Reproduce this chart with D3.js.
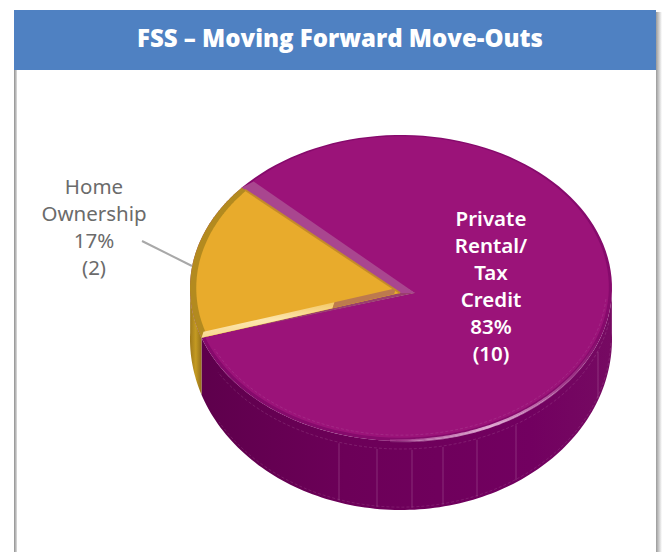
<!DOCTYPE html>
<html><head><meta charset="utf-8">
<script src="https://cdnjs.cloudflare.com/ajax/libs/d3/7.8.5/d3.min.js"></script>
<style>html,body{margin:0;padding:0;background:#fff}svg{display:block}</style>
</head><body><svg id="c" width="670" height="552"></svg>
<script>
const titleText = "FSS – Moving Forward Move-Outs";
const categories = ["Private Rental/Tax Credit", "Home Ownership"];
const values = [10, 2];
const privateLabel = ["Private","Rental/","Tax","Credit","83%","(10)"];
const homeLabel = ["Home","Ownership","17%","(2)"];
const faceColors = ["#9b1379","#e8ab2c"];

const svg = d3.select("#c");
const defs = svg.append("defs");
const cx=401, cy=288, rx=211, ry=153, cyB=339, ryB=171;
const rad=d=>d*Math.PI/180;
const pie = d3.pie().sort(null).value(d=>d).startAngle(rad(311)).endAngle(rad(311+360));
const arcs = pie(values);
const pt=(a,k=1,ox=cx,oy=cy,rrx=rx,rry=ry)=>[ox+rrx*k*Math.sin(a), oy-rry*k*Math.cos(a)];
const sweep=(a0,a1,f)=>d3.range(0,121).map(i=>f(a0+(a1-a0)*i/120));
const line=d3.line();
const lerp=(p,q,t)=>[p[0]+(q[0]-p[0])*t,p[1]+(q[1]-p[1])*t];
const gradient=(id,stops,attrs={})=>{
  const g=defs.append("linearGradient").attr("id",id);
  Object.entries(attrs).forEach(([k,v])=>g.attr(k,v));
  stops.forEach(s=>g.append("stop").attr("offset",s[0]).attr("stop-color",s[1]).attr("stop-opacity",s[2]===undefined?1:s[2]));
};

// card
gradient("sh",[[0,"#9a9a9a"],[1,"#ffffff"]]);
gradient("shL",[[0,"#8f8f8f"],[1,"#dddddd"]]);
svg.append("rect").attr("x",14).attr("y",70).attr("width",3).attr("height",482).attr("fill","url(#shL)");
svg.append("rect").attr("x",656).attr("y",12).attr("width",6).attr("height",540).attr("fill","url(#sh)");
svg.append("rect").attr("x",14).attr("y",10).attr("width",642).attr("height",60).attr("fill","#4f81c2");
svg.append("text").attr("x",340).attr("y",47).attr("text-anchor","middle").attr("fill","#fff")
 .attr("font-family","'Open Sans',sans-serif").attr("font-weight",800).attr("font-size",25.5)
 .attr("textLength",406).attr("lengthAdjust","spacingAndGlyphs").text(titleText);

// walls
const aSplit=arcs[0].endAngle-2*Math.PI;
const wall=(a0,a1)=>line(sweep(a0,a1,a=>pt(a)).concat(sweep(a1,a0,a=>pt(a,1,cx,cyB,rx,ryB))))+"Z";
gradient("wallP",[[0,"#5e004c"],[.35,"#6c0058"],[.8,"#720060"],[1,"#760a62"]]);
gradient("wallG",[[0,"#a07a1b"],[.5,"#c49a22"],[1,"#94701a"]]);
svg.append("path").attr("d",wall(rad(88),aSplit)).attr("fill","url(#wallP)");
svg.append("path").attr("d",wall(aSplit,rad(272))).attr("fill","url(#wallG)");

// faint panel seams on the wall
[339,377,412,443,477,516,598].forEach(x=>{
  const yT=cy+ry*Math.sqrt(1-((x-cx)/rx)**2)+9, yB=cyB+ryB*Math.sqrt(1-((x-cx)/rx)**2)-2;
  svg.append("line").attr("x1",x).attr("x2",x).attr("y1",yT).attr("y2",yB).attr("stroke","#c58ab6").attr("stroke-opacity",.4).attr("stroke-width",.8);
});
svg.append("path").attr("d",line(sweep(rad(92),rad(240),a=>pt(a,.995,cx,cyB-2,rx,ryB)))).attr("fill","none").attr("stroke","#c58ab6").attr("stroke-opacity",.3).attr("stroke-width",.6).attr("stroke-dasharray","3 2");
svg.append("path").attr("d",line(sweep(rad(100),rad(240),a=>pt(a,1,cx,cy+8)))).attr("fill","none").attr("stroke","#c58ab6").attr("stroke-opacity",.35).attr("stroke-width",.6).attr("stroke-dasharray","3 2");

// purple face with rim
const apexP=[415,293], apexG=[400,293];
const sector=(a0,a1,apex,k=1,ox=cx,oy=cy)=>line([apex].concat(sweep(a0,a1,a=>pt(a,k,ox,oy))))+"Z";
const p0=arcs[0].startAngle, p1=arcs[0].endAngle;
svg.append("path").attr("d",sector(p0,p1,apexP)).attr("fill","#860a6c");
svg.append("path").attr("d",sector(p0,p1,apexP,.985,cx,cy-1)).attr("fill",faceColors[0]);

// rim highlight
gradient("hl",[[0,"#eec3e2",0],[.2,"#eec3e2",.25],[.55,"#eec3e2",.85],[.8,"#eec3e2",.5],[1,"#eec3e2",0]],
  {gradientUnits:"userSpaceOnUse",x1:600,y1:340,x2:375,y2:440});
svg.append("path").attr("d",line(sweep(rad(110),rad(183),a=>pt(a,.992,cx,cy+1)))).attr("fill","none").attr("stroke","url(#hl)").attr("stroke-width",3);
svg.append("path").attr("d",line(sweep(rad(95),rad(245),a=>pt(a,.975,cx,cy-2)))).attr("fill","none").attr("stroke","#c07ab0").attr("stroke-opacity",.3).attr("stroke-width",.7).attr("stroke-dasharray","3 2");

// gold face: dark underlay closes the seam to the purple slice
const a0=arcs[1].startAngle, a1=arcs[1].endAngle;
const pE0=pt(a0), pE1=pt(a1);
svg.append("path").attr("d",sector(a0,a1,apexP)).attr("fill","#9a3f6e");
svg.append("path").attr("d",sector(a0,a1,apexG,1,cx,cy)).attr("fill","#b38a1f");
svg.append("path").attr("d",sector(a0,a1,apexG,.975,cx+1,cy)).attr("fill",faceColors[1]);

const strip=(p,q,w,fill)=>svg.append("path").attr("d",line([p,q,[q[0]+w[0],q[1]+w[1]],[p[0]+w[0],p[1]+w[1]]])+"Z").attr("fill",fill);
gradient("lg",[[0,"#f3c866"],[.5,"#fde6ae"],[1,"#f8d88f"]],{x1:0,y1:0,x2:0,y2:1});
const mid=lerp(pE0,apexG,.66);
strip(pE0,mid,[2,-6],"url(#lg)");
strip(mid,lerp(pE0,apexG,.97),[2,-6],"#bd7a4e");

// purple bevel along the back cut edge
svg.append("path").attr("d",line([pE1,apexG,apexP,[pE1[0]+12,pE1[1]-6]])+"Z").attr("fill","#a9468f");
svg.append("path").attr("d",line([lerp(pE1,apexG,.02),apexG])).attr("stroke","#c48a2a").attr("stroke-width",2).attr("fill","none");

// leader
svg.append("line").attr("x1",142).attr("y1",241).attr("x2",192).attr("y2",266).attr("stroke","#a8a8a8").attr("stroke-width",2);

// labels
svg.append("g").selectAll("text").data(privateLabel).join("text")
 .attr("x",491).attr("y",(d,i)=>226+i*27).attr("text-anchor","middle").attr("fill","#fff")
 .attr("font-family","'Noto Sans',sans-serif").attr("font-weight",600).attr("font-size",20.5).text(d=>d);
svg.append("g").selectAll("text").data(homeLabel).join("text")
 .attr("x",94).attr("y",(d,i)=>194+i*27).attr("text-anchor","middle").attr("fill","#6b6b6b")
 .attr("font-family","'Noto Sans',sans-serif").attr("font-size",20.5).text(d=>d);
</script></body></html>
